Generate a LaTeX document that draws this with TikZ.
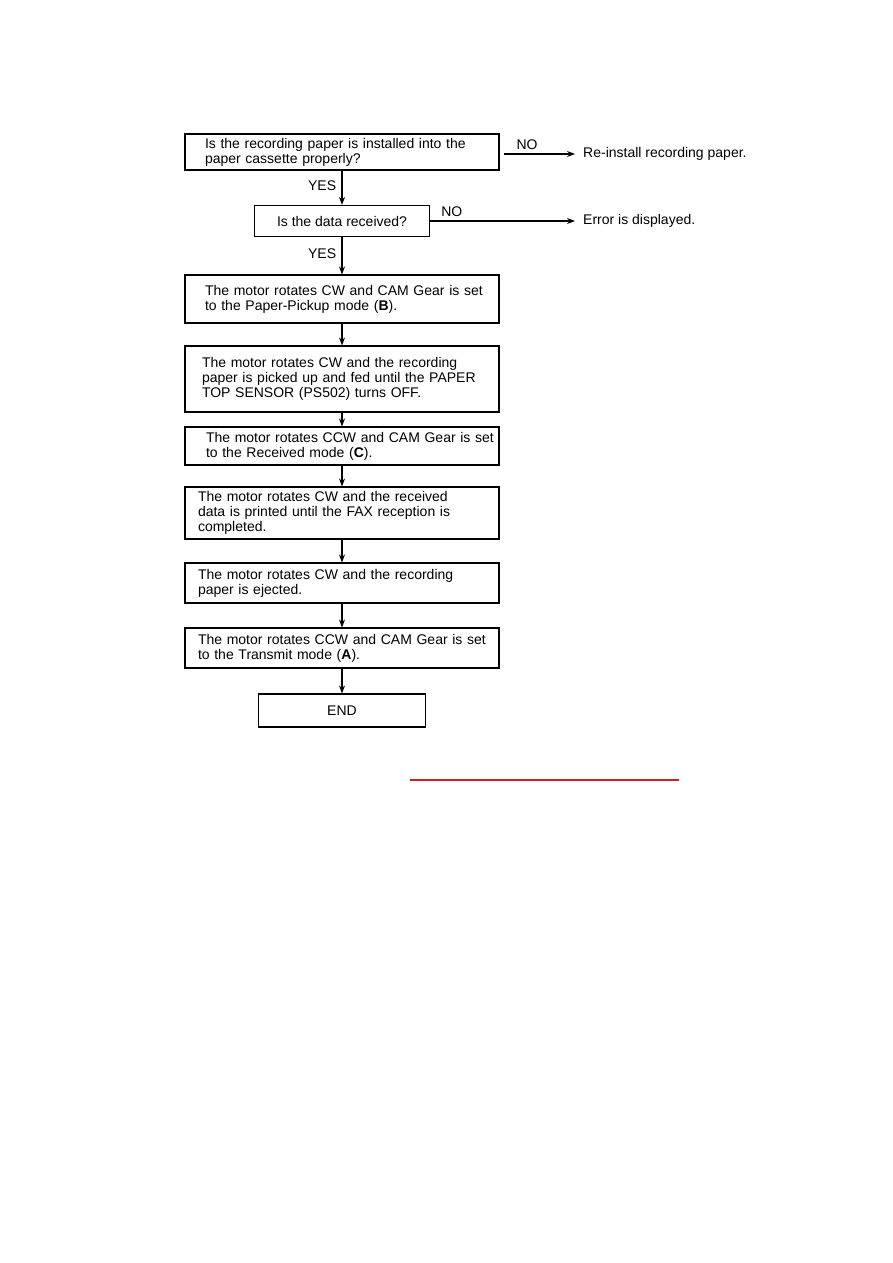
\documentclass[tikz,border=0pt]{standalone}
\usepackage{fontspec}
\setmainfont{Liberation Sans}
\usepackage{xcolor}
\usetikzlibrary{arrows.meta,positioning}
\definecolor{linkred}{RGB}{205,32,38}

\begin{document}
\begin{tikzpicture}[x=1pt, y=-1pt,
  every node/.style={font=\fontsize{14}{15}\selectfont},
  stepbox/.style={draw, line width=1.1pt, minimum width=314pt, text width=310pt, inner xsep=2pt,
    execute at begin node={\parindent=0pt\rightskip=0pt plus 1fil\leftskip=#1\relax}},
  stepbox/.default=11pt,
  askbox/.style={draw, line width=1.1pt, align=center},
  note/.style={anchor=west, inner xsep=8pt},
  arr/.style={line width=1.1pt, -{Stealth[length=8pt,width=6pt]}}]

\useasboundingbox (0,0) rectangle (893,1263);

% Questions
\node[stepbox=18pt, minimum height=36pt] (paper) at (342,152)
  {Is the recording paper is installed into the\\paper cassette properly?};
\node[askbox, minimum width=175pt, minimum height=31pt] (data) at (342,221) {Is the data received?};

% Answers on the NO side
\node[note] (reinstall) at (575,154) {Re-install recording paper.};
\node[note] (error) at (575,221) {Error is displayed.};

% Steps
\node[stepbox=18pt, minimum height=48pt] (pickmode) at (342,299)
  {The motor rotates CW and CAM Gear is set\\to the Paper-Pickup mode (\textbf{B}).};
\node[stepbox=15pt, minimum height=66pt] (feed) at (342,379)
  {The motor rotates CW and the recording\\paper is picked up and fed until the PAPER\\TOP SENSOR (PS502) turns OFF.};
\node[stepbox=19pt, minimum height=38pt] (recvmode) at (342,446)
  {The motor rotates CCW and CAM Gear is set\\to the Received mode (\textbf{C}).};
\node[stepbox, minimum height=52pt] (print) at (342,513)
  {The motor rotates CW and the received\\data is printed until the FAX reception is\\completed.};
\node[stepbox, minimum height=40pt] (eject) at (342,583)
  {The motor rotates CW and the recording\\paper is ejected.};
\node[stepbox, minimum height=40pt] (txmode) at (342,648)
  {The motor rotates CCW and CAM Gear is set\\to the Transmit mode (\textbf{A}).};
\node[askbox, minimum width=167pt, minimum height=33pt] (end) at (342,710.5) {END};

% Flow
\draw[arr] (paper) -- node[left, pos=0.45, xshift=-2pt] {YES} (data);
\draw[arr] (data) -- node[left, pos=0.45, xshift=-2pt] {YES} (pickmode);
\draw[arr] ([xshift=4pt,yshift=-2pt]paper.east) -- node[above, pos=0.33] {NO} (reinstall.west);
\draw[arr] (data.east) -- node[above, pos=0.15] {NO} (error.west);
\draw[arr] (pickmode) -- (feed);
\draw[arr] (feed) -- (recvmode);
\draw[arr] (recvmode) -- (print);
\draw[arr] (print) -- (eject);
\draw[arr] (eject) -- (txmode);
\draw[arr] (txmode) -- (end);

% Link underline
\draw[linkred, line width=1.5pt] (410,780) -- (679,780);

\end{tikzpicture}
\end{document}
